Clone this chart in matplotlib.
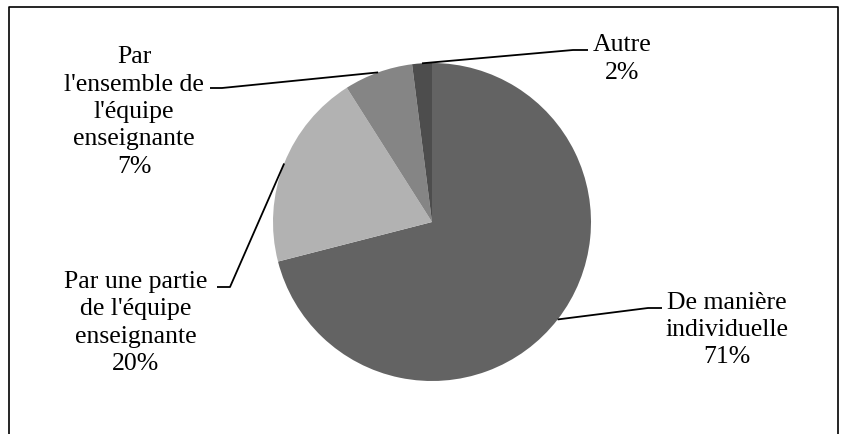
import numpy as np
import matplotlib.pyplot as plt

labels = ["De manière\nindividuelle", "Par une partie\nde l'équipe\nenseignante",
          "Par\nl'ensemble de\nl'équipe\nenseignante", "Autre"]
values = [71, 20, 7, 2]
colors = ["#636363", "#b2b2b2", "#858585", "#4d4d4d"]

# layout in pixels (y measured from top)
W, H = 845, 434
cx, cy, r = 432, 222, 159
text_pos = [(727, 330), (136, 323), (134, 112), (622, 59)]
elbows = [(648, 308), (230, 287), (222, 88), (573, 50)]
ends = [(662, 308), (217, 287), (210, 88), (588, 50)]

plt.rcParams['font.family'] = ['Liberation Serif', 'DejaVu Serif']

fig = plt.figure(figsize=(W / 100, H / 100), dpi=100)
ax = fig.add_axes([0, 0, 1, 1])

def fy(y):
    return H - y

wedges, _ = ax.pie(values, colors=colors, startangle=90, counterclock=False,
                   center=(cx, fy(cy)), radius=r, frame=True)
ax.set_xlim(0, W)
ax.set_ylim(0, H)
ax.axis('off')

total = sum(values)
start = 90.0
for i, v in enumerate(values):
    sweep = 360.0 * v / total
    mid = np.deg2rad(start - sweep / 2)
    start -= sweep
    ax_x = cx + r * np.cos(mid)
    ax_y = cy - r * np.sin(mid)
    ex, ey = elbows[i]
    tx, ty = ends[i]
    ax.plot([ax_x, ex, tx], [fy(ax_y), fy(ey), fy(ty)], color='black', lw=1.3,
            solid_capstyle='butt')
    px, py = text_pos[i]
    ax.text(px, fy(py), "%s\n%d%%" % (labels[i], v), ha='center', va='center',
            fontsize=18.5, linespacing=1.32, color='black')

# outer frame (bottom edge is cut off)
ax.plot([9, 9, 838, 838], [0, fy(7), fy(7), 0], color='black', lw=1.2)

fig.savefig("out.png", dpi=100)
